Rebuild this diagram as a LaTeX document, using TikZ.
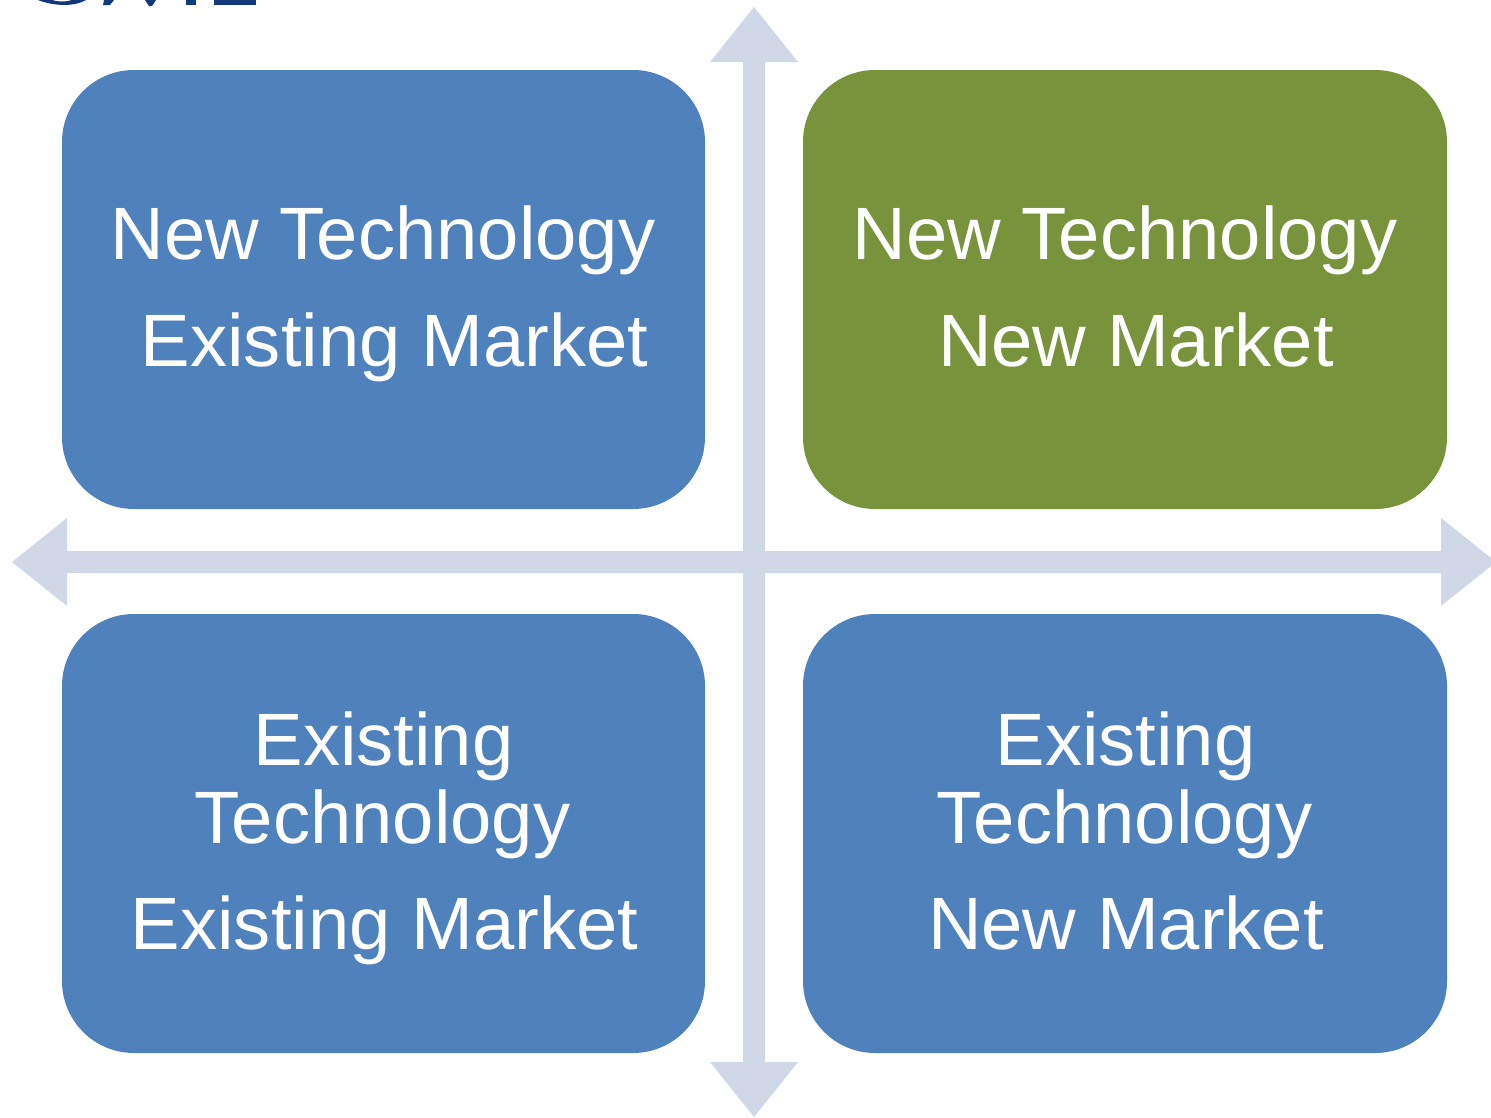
\documentclass[tikz,border=0pt]{standalone}
\usepackage{fontspec}
\setmainfont{Liberation Sans}
\definecolor{boxblue}{HTML}{4F81BD}
\definecolor{boxgreen}{HTML}{78933B}
\definecolor{axis}{HTML}{D0D8E8}
\definecolor{logo}{HTML}{123A7A}
\begin{document}
\begin{tikzpicture}[x=1pt,y=-1pt,
 quad/.style={fill=boxblue,rounded corners=72pt},
 lab/.style={text=white,font=\fontsize{74.2}{74.2}\selectfont,anchor=base,inner sep=0pt}]
\useasboundingbox (0,0) rectangle (1491,1117);
\fill[white] (0,0) rectangle (1491,1117);
\fill[axis] (754,7) -- (798,62) -- (765,62) -- (765,551) -- (1441,551) -- (1441,518) -- (1496,562) -- (1441,606) -- (1441,573) -- (765,573) -- (765,1062) -- (798,1062) -- (754,1117) -- (710,1062) -- (743,1062) -- (743,573) -- (67,573) -- (67,606) -- (12,562) -- (67,518) -- (67,551) -- (743,551) -- (743,62) -- (710,62) -- cycle;
\fill[quad] (62,70) rectangle (705,509);
\fill[quad,fill=boxgreen] (803,70) rectangle (1447,509);
\fill[quad] (62,614) rectangle (705,1053);
\fill[quad] (803,614) rectangle (1447,1053);
\fill[logo] (38,0) .. controls (50,5) and (72,8) .. (86,0) -- (72,0) .. controls (66,2) and (58,2) .. (52,0) -- cycle;
\fill[logo] (104,0) -- (114,0) -- (110,5) -- (103,5) -- cycle;
\fill[logo] (145,0) -- (156,0) -- (152,6) -- (149,6) -- cycle;
\fill[logo] (186,0) -- (196,0) -- (196,5) -- (186,5) -- cycle;
\fill[logo] (214,0) -- (256,0) -- (256,5) -- (214,5) -- cycle;
\node[lab] (a1) at (383,259) {New Technology};
\node[lab] (a2) at (394.5,366) {Existing Market};
\node[lab] (b1) at (1125,259) {New Technology};
\node[lab] (b2) at (1136,366) {New Market};
\node[lab] (c1) at (383.5,765) {Existing};
\node[lab] (c2) at (382.5,843) {Technology};
\node[lab] (c3) at (384.5,949) {Existing Market};
\node[lab] (d1) at (1125.5,765) {Existing};
\node[lab] (d2) at (1124.5,843) {Technology};
\node[lab] (d3) at (1126,949) {New Market};
\end{tikzpicture}
\end{document}
